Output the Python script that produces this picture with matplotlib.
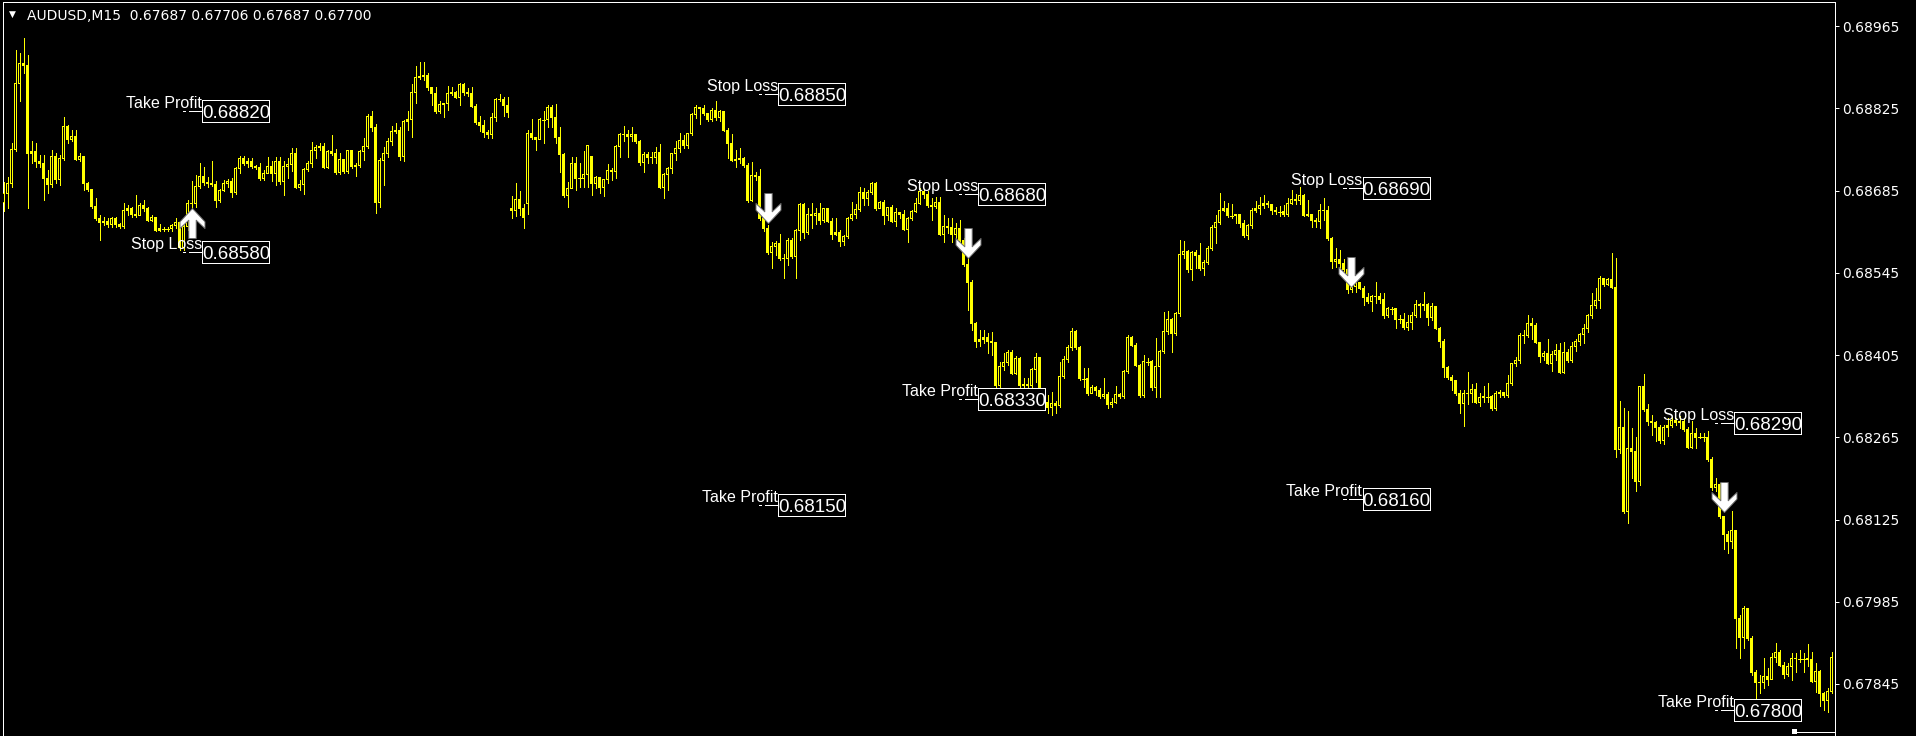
import numpy as np
import matplotlib
matplotlib.use("Agg")
import matplotlib.pyplot as plt
from matplotlib.path import Path
from matplotlib.patches import Rectangle
from matplotlib.lines import Line2D

# ---------------- data (prices in points, 1 point = 0.00001) ----------------
symbol_title = "AUDUSD,M15  0.67687 0.67706 0.67687 0.67700"

first_open = 68665
gap_opens = {127: 68654, 131: 68664, 147: 68744}

close_pts = [
    68680, 68698, 68755, 68868, 68902, 68899, 68749, 68752, 68735, 68732,
    68706, 68695, 68744, 68704, 68739, 68794, 68772, 68778, 68738, 68744,
    68697, 68687, 68658, 68638, 68630, 68633, 68628, 68637, 68627, 68624,
    68652, 68654, 68644, 68643, 68659, 68654, 68635, 68640, 68618, 68620,
    68620, 68620, 68625, 68631, 68589, 68624, 68664, 68663, 68692, 68710,
    68699, 68697, 68696, 68668, 68685, 68697, 68701, 68682, 68722, 68740,
    68732, 68735, 68726, 68725, 68706, 68715, 68727, 68715, 68735, 68701,
    68726, 68730, 68749, 68691, 68695, 68721, 68732, 68753, 68759, 68761,
    68725, 68752, 68749, 68716, 68738, 68718, 68754, 68726, 68728, 68752,
    68761, 68811, 68792, 68665, 68736, 68749, 68769, 68786, 68788, 68743,
    68803, 68806, 68853, 68878, 68880, 68882, 68860, 68850, 68820, 68832,
    68834, 68851, 68852, 68844, 68865, 68852, 68851, 68828, 68801, 68796,
    68784, 68780, 68810, 68841, 68840, 68830, 68818, 68651, 68670, 68655,
    68640, 68783, 68775, 68773, 68806, 68806, 68827, 68810, 68776, 68747,
    68676, 68689, 68732, 68706, 68706, 68712, 68762, 68698, 68708, 68691,
    68704, 68719, 68718, 68760, 68780, 68781, 68777, 68781, 68769, 68733,
    68747, 68741, 68742, 68750, 68690, 68713, 68722, 68749, 68756, 68770,
    68762, 68783, 68814, 68826, 68825, 68817, 68807, 68822, 68809, 68820,
    68787, 68766, 68737, 68738, 68740, 68728, 68669, 68711, 68710, 68638,
    68620, 68580, 68590, 68595, 68569, 68570, 68601, 68573, 68618, 68661,
    68614, 68644, 68642, 68646, 68635, 68654, 68633, 68611, 68614, 68598,
    68607, 68638, 68644, 68653, 68682, 68672, 68682, 68697, 68654, 68665,
    68642, 68656, 68633, 68648, 68644, 68619, 68637, 68649, 68664, 68684,
    68679, 68660, 68658, 68665, 68611, 68624, 68622, 68611, 68620, 68601,
    68559, 68529, 68459, 68429, 68432, 68435, 68428, 68426, 68354, 68386,
    68393, 68410, 68374, 68400, 68354, 68355, 68353, 68380, 68401, 68332,
    68325, 68315, 68323, 68320, 68369, 68397, 68418, 68446, 68418, 68365,
    68365, 68340, 68349, 68344, 68334, 68338, 68321, 68325, 68338, 68334,
    68377, 68435, 68422, 68387, 68337, 68394, 68394, 68349, 68386, 68411,
    68446, 68465, 68441, 68476, 68576, 68581, 68550, 68579, 68575, 68553,
    68563, 68587, 68622, 68631, 68652, 68655, 68642, 68642, 68644, 68629,
    68609, 68625, 68652, 68654, 68660, 68663, 68661, 68651, 68649, 68649,
    68644, 68664, 68670, 68669, 68676, 68643, 68644, 68634, 68632, 68652,
    68651, 68604, 68564, 68568, 68561, 68551, 68516, 68521, 68528, 68518,
    68503, 68496, 68504, 68505, 68499, 68473, 68484, 68484, 68466, 68466,
    68452, 68461, 68473, 68491, 68489, 68492, 68469, 68487, 68450, 68429,
    68384, 68367, 68361, 68339, 68322, 68340, 68339, 68346, 68325, 68333,
    68334, 68334, 68314, 68339, 68341, 68336, 68356, 68390, 68396, 68439,
    68438, 68458, 68456, 68427, 68403, 68407, 68391, 68406, 68412, 68376,
    68410, 68395, 68420, 68429, 68440, 68450, 68473, 68489, 68498, 68536,
    68526, 68533, 68520, 68244, 68282, 68138, 68246, 68241, 68190, 68352,
    68312, 68292, 68291, 68282, 68259, 68282, 68285, 68293, 68291, 68292,
    68278, 68247, 68271, 68265, 68265, 68265, 68227, 68180, 68184, 68130,
    68100, 68087, 68107, 67957, 67924, 67973, 67923, 67864, 67848, 67847,
    67857, 67852, 67890, 67899, 67877, 67861, 67875, 67889, 67888, 67888,
    67888, 67887, 67849, 67866, 67829, 67816, 67832, 67890,
]

high_pts = [
    68700, 68709, 68766, 68924, 68919, 68945, 68916, 68769, 68766, 68746,
    68746, 68721, 68755, 68749, 68746, 68811, 68797, 68789, 68789, 68749,
    68743, 68699, 68687, 68672, 68644, 68641, 68638, 68641, 68641, 68630,
    68664, 68661, 68658, 68678, 68664, 68669, 68658, 68644, 68641, 68629,
    68624, 68624, 68629, 68638, 68633, 68633, 68669, 68701, 68712, 68733,
    68726, 68709, 68735, 68701, 68688, 68704, 68705, 68706, 68726, 68744,
    68744, 68740, 68740, 68729, 68732, 68721, 68742, 68735, 68743, 68743,
    68735, 68740, 68757, 68757, 68704, 68723, 68735, 68768, 68763, 68766,
    68766, 68754, 68779, 68756, 68749, 68739, 68755, 68753, 68732, 68755,
    68775, 68816, 68821, 68799, 68740, 68759, 68775, 68796, 68800, 68793,
    68806, 68821, 68867, 68897, 68904, 68904, 68885, 68860, 68861, 68837,
    68835, 68864, 68861, 68854, 68868, 68868, 68860, 68861, 68833, 68813,
    68805, 68789, 68818, 68843, 68850, 68844, 68844, 68676, 68698, 68684,
    68663, 68789, 68807, 68776, 68809, 68821, 68831, 68831, 68833, 68793,
    68750, 68699, 68742, 68742, 68732, 68752, 68763, 68744, 68710, 68709,
    68705, 68731, 68723, 68763, 68783, 68795, 68788, 68793, 68778, 68771,
    68751, 68751, 68751, 68760, 68764, 68715, 68726, 68750, 68769, 68783,
    68780, 68784, 68817, 68831, 68828, 68831, 68818, 68825, 68838, 68822,
    68821, 68791, 68781, 68754, 68757, 68743, 68732, 68734, 68716, 68722,
    68646, 68627, 68598, 68599, 68612, 68578, 68604, 68604, 68620, 68664,
    68664, 68655, 68664, 68656, 68664, 68656, 68655, 68638, 68638, 68618,
    68610, 68641, 68666, 68662, 68692, 68689, 68686, 68700, 68699, 68667,
    68669, 68658, 68661, 68655, 68646, 68652, 68641, 68652, 68673, 68689,
    68686, 68685, 68672, 68675, 68675, 68644, 68638, 68638, 68630, 68635,
    68604, 68570, 68533, 68462, 68448, 68448, 68442, 68445, 68428, 68394,
    68408, 68414, 68414, 68403, 68401, 68366, 68366, 68383, 68408, 68401,
    68337, 68337, 68343, 68326, 68394, 68403, 68422, 68451, 68448, 68420,
    68383, 68383, 68354, 68353, 68349, 68366, 68343, 68332, 68353, 68340,
    68380, 68439, 68437, 68425, 68389, 68405, 68400, 68397, 68434, 68414,
    68479, 68480, 68468, 68479, 68601, 68600, 68584, 68583, 68584, 68596,
    68567, 68590, 68626, 68644, 68681, 68667, 68664, 68663, 68646, 68646,
    68635, 68629, 68655, 68668, 68675, 68677, 68668, 68663, 68658, 68659,
    68660, 68672, 68686, 68680, 68691, 68680, 68669, 68646, 68638, 68662,
    68673, 68659, 68606, 68587, 68584, 68568, 68554, 68533, 68533, 68530,
    68522, 68510, 68507, 68530, 68510, 68511, 68487, 68487, 68482, 68473,
    68477, 68473, 68479, 68499, 68494, 68513, 68494, 68494, 68487, 68453,
    68432, 68387, 68371, 68362, 68346, 68346, 68377, 68356, 68357, 68340,
    68352, 68357, 68337, 68344, 68345, 68343, 68371, 68392, 68402, 68442,
    68448, 68473, 68468, 68460, 68428, 68412, 68433, 68412, 68424, 68426,
    68427, 68416, 68427, 68433, 68443, 68458, 68475, 68511, 68519, 68539,
    68537, 68536, 68579, 68571, 68326, 68315, 68309, 68281, 68265, 68353,
    68372, 68321, 68303, 68292, 68286, 68286, 68298, 68299, 68298, 68301,
    68298, 68282, 68292, 68281, 68272, 68272, 68275, 68232, 68196, 68187,
    68130, 68105, 68139, 68104, 67963, 67977, 67974, 67926, 67868, 67861,
    67889, 67872, 67898, 67915, 67902, 67883, 67881, 67898, 67898, 67902,
    67898, 67913, 67900, 67881, 67869, 67832, 67838, 67900,
]

low_pts = [
    68650, 68655, 68692, 68752, 68837, 68885, 68655, 68732, 68726, 68726,
    68669, 68681, 68692, 68698, 68695, 68738, 68766, 68769, 68737, 68735,
    68687, 68684, 68655, 68635, 68601, 68627, 68624, 68624, 68624, 68621,
    68621, 68644, 68641, 68641, 68644, 68650, 68633, 68633, 68616, 68616,
    68617, 68617, 68616, 68621, 68584, 68584, 68618, 68655, 68658, 68689,
    68695, 68692, 68693, 68658, 68666, 68684, 68692, 68675, 68680, 68715,
    68729, 68726, 68723, 68722, 68704, 68704, 68715, 68701, 68695, 68697,
    68678, 68706, 68718, 68689, 68687, 68680, 68718, 68726, 68741, 68755,
    68723, 68723, 68746, 68714, 68714, 68715, 68715, 68723, 68710, 68726,
    68738, 68758, 68786, 68647, 68657, 68695, 68743, 68763, 68783, 68738,
    68735, 68789, 68776, 68835, 68875, 68874, 68857, 68831, 68818, 68817,
    68811, 68822, 68848, 68843, 68831, 68848, 68847, 68827, 68799, 68786,
    68776, 68774, 68774, 68803, 68837, 68813, 68810, 68638, 68642, 68644,
    68621, 68646, 68773, 68755, 68773, 68766, 68793, 68793, 68766, 68716,
    68675, 68657, 68689, 68687, 68691, 68691, 68692, 68677, 68689, 68681,
    68676, 68698, 68704, 68706, 68743, 68770, 68743, 68769, 68766, 68729,
    68716, 68732, 68732, 68732, 68689, 68673, 68686, 68715, 68737, 68751,
    68758, 68757, 68779, 68808, 68798, 68814, 68804, 68803, 68805, 68804,
    68786, 68740, 68736, 68726, 68732, 68726, 68665, 68667, 68703, 68635,
    68616, 68577, 68554, 68576, 68567, 68537, 68558, 68571, 68536, 68601,
    68604, 68612, 68621, 68629, 68629, 68632, 68632, 68603, 68610, 68590,
    68593, 68604, 68635, 68638, 68650, 68661, 68661, 68679, 68652, 68655,
    68628, 68635, 68632, 68625, 68638, 68618, 68598, 68635, 68648, 68662,
    68672, 68658, 68635, 68655, 68609, 68598, 68613, 68598, 68598, 68596,
    68556, 68482, 68448, 68418, 68420, 68425, 68408, 68405, 68349, 68351,
    68380, 68388, 68372, 68372, 68349, 68343, 68337, 68337, 68360, 68329,
    68317, 68306, 68303, 68306, 68317, 68366, 68394, 68414, 68416, 68363,
    68351, 68337, 68340, 68337, 68332, 68332, 68315, 68317, 68323, 68332,
    68332, 68374, 68420, 68386, 68334, 68334, 68388, 68346, 68334, 68333,
    68408, 68441, 68411, 68439, 68471, 68570, 68547, 68533, 68553, 68550,
    68542, 68560, 68584, 68596, 68628, 68650, 68641, 68639, 68630, 68624,
    68606, 68602, 68622, 68649, 68646, 68655, 68658, 68646, 68645, 68642,
    68642, 68642, 68663, 68663, 68662, 68642, 68642, 68624, 68624, 68621,
    68635, 68601, 68553, 68555, 68551, 68547, 68510, 68513, 68513, 68517,
    68490, 68494, 68480, 68494, 68494, 68469, 68470, 68475, 68452, 68460,
    68450, 68448, 68450, 68470, 68470, 68482, 68456, 68465, 68449, 68419,
    68367, 68364, 68345, 68337, 68307, 68284, 68322, 68325, 68324, 68318,
    68325, 68325, 68312, 68312, 68334, 68333, 68334, 68354, 68386, 68392,
    68426, 68436, 68433, 68426, 68394, 68397, 68389, 68378, 68397, 68374,
    68374, 68394, 68394, 68412, 68423, 68426, 68444, 68468, 68485, 68485,
    68522, 68525, 68519, 68232, 68238, 68136, 68119, 68196, 68173, 68184,
    68309, 68286, 68269, 68258, 68255, 68254, 68268, 68282, 68286, 68281,
    68275, 68246, 68246, 68247, 68263, 68258, 68225, 68176, 68173, 68128,
    68074, 68068, 68076, 67906, 67889, 67906, 67920, 67861, 67812, 67829,
    67838, 67844, 67855, 67883, 67875, 67855, 67858, 67852, 67866, 67883,
    67866, 67875, 67848, 67832, 67807, 67801, 67798, 67829,
]

# trade signals: arrow (bar index, price, direction)
arrow_bar = [47.2, 191.0, 241.0, 336.9, 430.05]
arrow_price = [0.68630, 0.68656, 0.68596, 0.68546, 0.68164]
arrow_dir = ["up", "down", "down", "down", "down"]

# SL / TP labels (bar index of box left edge)
label_bar = [49.7, 193.7, 243.7, 339.8, 432.7]
stop_loss = [0.68580, 0.68850, 0.68680, 0.68690, 0.68290]
take_profit = [0.68820, 0.68150, 0.68330, 0.68160, 0.67800]

price_ticks = [0.68965, 0.68825, 0.68685, 0.68545, 0.68405,
               0.68265, 0.68125, 0.67985, 0.67845]

assert len(close_pts) == len(high_pts) == len(low_pts)

# ---------------- build arrays ----------------
C = np.array(close_pts) / 1e5
H = np.array(high_pts) / 1e5
L = np.array(low_pts) / 1e5
O = np.empty_like(C)
O[0] = first_open / 1e5
O[1:] = C[:-1]
for k, v in gap_opens.items():
    O[k] = v / 1e5
n = len(C)
x = np.arange(n)

YELLOW = "#ffff00"
W, Hgt = 1916, 736
LW1 = 0.72  # one pixel

fig = plt.figure(figsize=(W / 100, Hgt / 100), dpi=100, facecolor="black")
left_px, right_px, top_px = 2.5, 1834.5, 1.5
ax = fig.add_axes([left_px / W, 0, (right_px - left_px) / W, (Hgt - top_px) / Hgt])
ax.set_facecolor("black")
XMIN, XMAX = -0.25, 457.75
YMIN, YMAX = 0.677563, 0.690072
ax.set_xlim(XMIN, XMAX)
ax.set_ylim(YMIN, YMAX)

# pixel -> data scale
px_x = (XMAX - XMIN) / (right_px - left_px)
px_y = (YMAX - YMIN) / (Hgt - top_px)

# wicks
ax.vlines(x, L, H, colors=YELLOW, linewidth=LW1, antialiased=False, zorder=2)

lo = np.minimum(O, C)
hi = np.maximum(O, C)
hgt = hi - lo
bull = C > O + 0.6e-5
bear = C < O - 0.6e-5
doji = ~(bull | bear)

body = bull | bear
ax.bar(x[body], hgt[body] + px_y, bottom=lo[body] - 0.5 * px_y, width=0.75,
       color=YELLOW, linewidth=0, antialiased=False, zorder=3)
hollow = bull & (hgt > 2.2 * px_y)
ax.bar(x[hollow], hgt[hollow] - 1.0 * px_y, bottom=lo[hollow] + 0.5 * px_y,
       width=0.25, color="black", linewidth=0, antialiased=False, zorder=4)
ax.hlines(C[doji], x[doji] - 0.375, x[doji] + 0.375, colors=YELLOW,
          linewidth=LW1, antialiased=False, zorder=3)

# arrows
dn = [(-3.7, 15), (3.7, 15), (3.7, -3.3), (12.5, 5), (12.5, -1.7), (0, -15),
      (-12.5, -1.7), (-12.5, 5), (-3.7, -3.3), (-3.7, 15)]
codes = [Path.MOVETO] + [Path.LINETO] * (len(dn) - 2) + [Path.CLOSEPOLY]
down_path = Path(dn, codes)
up_path = Path([(a, -b) for a, b in dn], codes)
for b, p, d in zip(arrow_bar, arrow_price, arrow_dir):
    ax.plot([b], [p], linestyle="none",
            marker=(up_path if d == "up" else down_path),
            markersize=21.6, markerfacecolor="white",
            markeredgecolor="#6e6e6e", markeredgewidth=0.7, zorder=6)

# SL / TP labels
def draw_label(bar, price, name):
    bw, bh = 67 * px_x, 22 * px_y
    ax.add_patch(Rectangle((bar, price - bh / 2), bw, bh, facecolor="black",
                           edgecolor="white", linewidth=LW1, zorder=7,
                           antialiased=False))
    ax.text(bar + bw / 2 + 0.5 * px_x, price - 7.0 * px_y, f"{price:.5f}",
            ha="center", va="baseline", color="white", fontsize=13.5,
            family="Liberation Sans", zorder=8)
    ax.text(bar - 0.5 * px_x, price + 3.0 * px_y, name, ha="right",
            va="baseline", color="white", fontsize=11.5,
            family="Liberation Sans", zorder=8)
    ax.plot([bar - 19.3 * px_x, bar - 17.0 * px_x], [price, price],
            color="white", linewidth=LW1, antialiased=False, zorder=7)
    ax.plot([bar - 13.7 * px_x, bar], [price, price],
            color="white", linewidth=LW1, antialiased=False, zorder=7)

for b, sl, tp in zip(label_bar, stop_loss, take_profit):
    draw_label(b, tp, "Take Profit")
    draw_label(b, sl, "Stop Loss")

# axes styling
for s in ["left", "top", "right"]:
    ax.spines[s].set_color("white")
    ax.spines[s].set_linewidth(LW1)
ax.spines["bottom"].set_visible(False)
ax.set_xticks([])
ax.yaxis.tick_right()
ax.set_yticks(price_ticks)
ax.set_yticklabels([f"{t:.5f}" for t in price_ticks])
ax.tick_params(axis="y", direction="out", length=2.6, width=LW1,
               colors="white", labelcolor="white", labelsize=10, pad=2.6)
for lab in ax.get_yticklabels():
    lab.set_family("DejaVu Sans")

# title
fig.text(12 / W, 1 - 14.5 / Hgt, "\u25bc", color="white", fontsize=6.5,
         ha="center", va="center", family="DejaVu Sans")
fig.text(27 / W, 1 - 15.5 / Hgt, symbol_title, color="white", fontsize=10,
         ha="left", va="center", family="DejaVu Sans")

# chart-shift marker at bottom right
fig.add_artist(Line2D([1791.7 / W, right_px / W], [1 - 731.7 / Hgt, 1 - 731.7 / Hgt],
                      transform=fig.transFigure, color="white", linewidth=LW1))
fig.add_artist(Rectangle((1791.7 / W, 1 - 734.0 / Hgt), 5 / W, 4.7 / Hgt,
                         transform=fig.transFigure, facecolor="white",
                         edgecolor="none"))

fig.savefig("out.png", dpi=100, facecolor="black")
